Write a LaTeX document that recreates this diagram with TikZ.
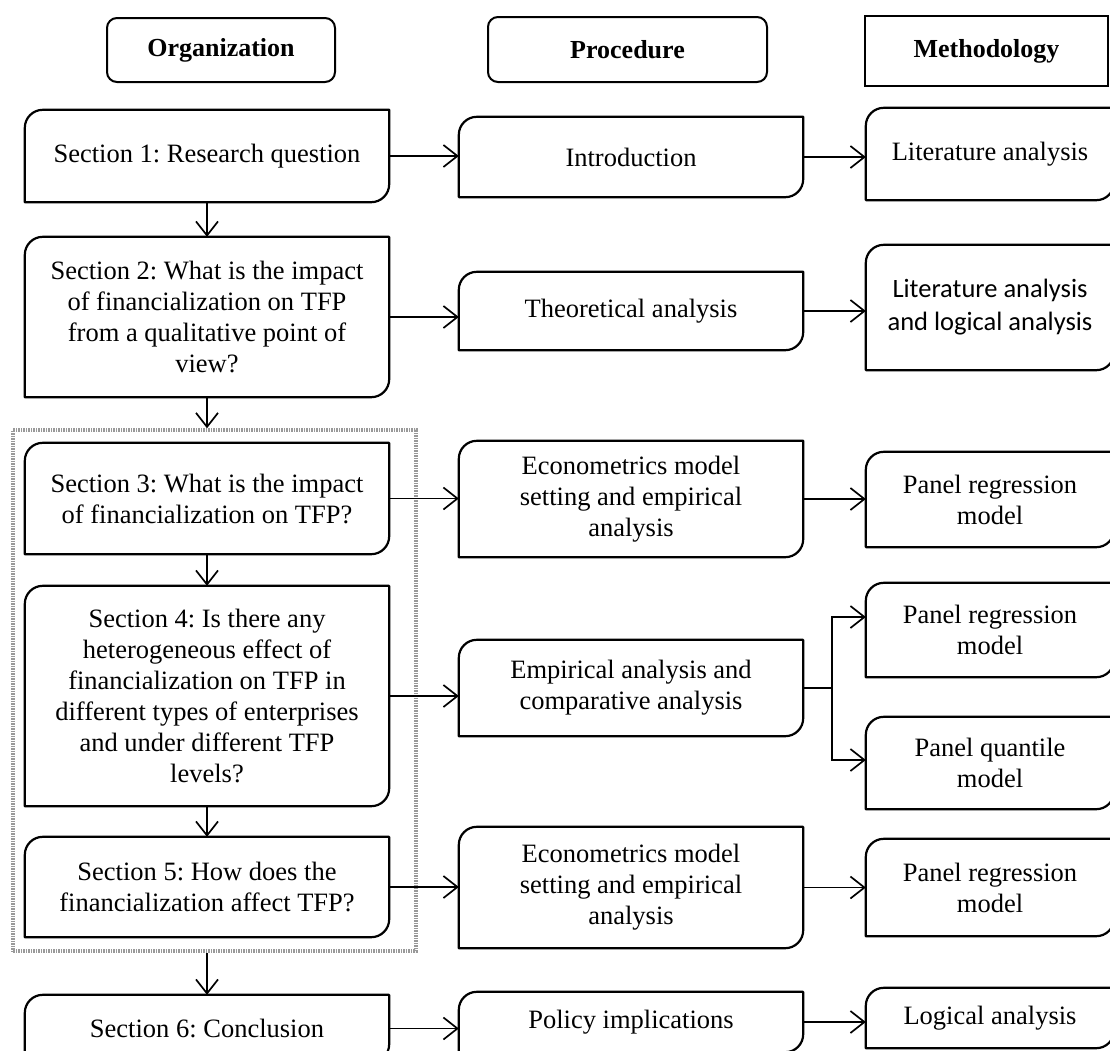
\documentclass[tikz,border=0pt]{standalone}
\usepackage{fontspec}
\setmainfont{Liberation Serif}
\newfontfamily\calfont{Carlito}
\usetikzlibrary{arrows.meta}
\frenchspacing

\tikzset{
  txt/.style={inner sep=0pt, align=center, font=\fontsize{26.5}{31}\selectfont},
  head/.style={txt, draw, line width=2pt, rounded corners=10pt, font=\bfseries\fontsize{26}{31}\selectfont},
  secbox/.style={txt, minimum width=364pt},
  procbox/.style={txt, minimum width=344pt},
  methbox/.style={txt, minimum width=248pt},
  calibri/.style={font=\calfont\fontsize{26.5}{33}\selectfont},
  cardline/.style={line width=2.2pt, line join=round},
  arr/.style={-{Straight Barb[length=14pt,width=22pt]}, line width=1.7pt},
  grpbox/.style={draw=gray!80, line width=3.5pt, dash pattern=on 1.5pt off 1pt, inner sep=0pt},
}

% box with rounded top-left and bottom-right corners
\newcommand{\cardedge}[1]{%
  \draw[cardline] (#1.north east) -- ([xshift=18pt]#1.north west)
    arc[start angle=90, end angle=180, radius=18pt] -- (#1.south west)
    -- ([xshift=-18pt]#1.south east) arc[start angle=270, end angle=360, radius=18pt] -- cycle;}

\begin{document}
\begin{tikzpicture}[x=1pt,y=-1pt]
\clip (0,0) rectangle (1110,1050);

% column heads
\node[head, minimum width=228pt, minimum height=64pt] (hOrg) at (221,50) {Organization};
\node[head, minimum width=279pt, minimum height=65pt] (hProc) at (627.5,49.5) {Procedure};
\node[head, sharp corners, minimum width=243pt, minimum height=70pt] (hMeth) at (986.5,51) {Methodology};

% sections 3--5 grouped
\node[grpbox, minimum width=403pt, minimum height=521pt] (grp) at (214.5,690.5) {};

% organization
\node[secbox, minimum height=92pt] (S1) at (207,156) {Section 1: Research question};
\node[secbox, minimum height=160pt] (S2) at (207,317) {Section 2: What is the impact\\ of financialization on TFP\\ from a qualitative point of\\ view?};
\node[secbox, minimum height=111pt] (S3) at (207,498.5) {Section 3: What is the impact\\ of financialization on TFP?};
\node[secbox, minimum height=220pt] (S4) at (207,696) {Section 4: Is there any\\ heterogeneous effect of\\ financialization on TFP in\\ different types of enterprises\\ and under different TFP\\ levels?};
\node[secbox, minimum height=100pt] (S5) at (207,887) {Section 5: How does the\\ financialization affect TFP?};
\node[secbox, minimum height=67pt] (S6) at (207,1028.5) {Section 6: Conclusion};

% procedure
\node[procbox, minimum height=80pt] (P1) at (631,157) {Introduction};
\node[procbox, minimum height=78pt] (P2) at (631,311) {Theoretical analysis};
\node[procbox, minimum height=116pt] (P3) at (631,499) {Econometrics model\\ setting and empirical\\ analysis};
\node[procbox, minimum height=96pt] (P4) at (631,688) {Empirical analysis and\\ comparative analysis};
\node[procbox, minimum height=121pt] (P5) at (631,887.5) {Econometrics model\\ setting and empirical\\ analysis};
\node[procbox, minimum height=60pt] (P6) at (631,1022) {Policy implications};

% methodology
\node[methbox, minimum height=92pt] (M1) at (990,154) {Literature analysis};
\node[methbox, calibri, minimum height=125pt] (M2) at (990,307.5) {Literature analysis\\ and logical analysis};
\node[methbox, minimum height=95pt] (M3) at (990,499.5) {Panel regression\\ model};
\node[methbox, minimum height=94pt] (M4) at (990,630) {Panel regression\\ model};
\node[methbox, minimum height=92pt] (M5) at (990,763) {Panel quantile\\ model};
\node[methbox, minimum height=97pt] (M6) at (990,887.5) {Panel regression\\ model};
\node[methbox, minimum height=60pt] (M7) at (990,1018) {Logical analysis};

\foreach \n in {S1,S2,S3,S4,S5,S6,P1,P2,P3,P4,P5,P6,M1,M2,M3,M4,M5,M6,M7}
  \cardedge{\n};

% arrows
\foreach \a/\b in {S1/S2,S3/S4,S4/S5}
  \draw[arr] (\a.south) -- (\b.north);
\draw[arr] (S2.south) -- (S2.south |- grp.north);
\draw[arr] (S6.north |- grp.south) -- (S6.north);
\foreach \a/\b in {S1/P1,P1/M1,S2/P2,P2/M2,S3/P3,P3/M3,S4/P4,S5/P5,P5/M6,S6/P6,P6/M7}
  \draw[arr] (\a.east) -- (\a.east -| \b.west);
\draw[line width=1.7pt] (P4.east) -- ++(29,0) coordinate (br);
\draw[arr] (br) |- ([yshift=13pt]M4.west);
\draw[arr] (br) |- ([yshift=3pt]M5.west);
\end{tikzpicture}
\end{document}
